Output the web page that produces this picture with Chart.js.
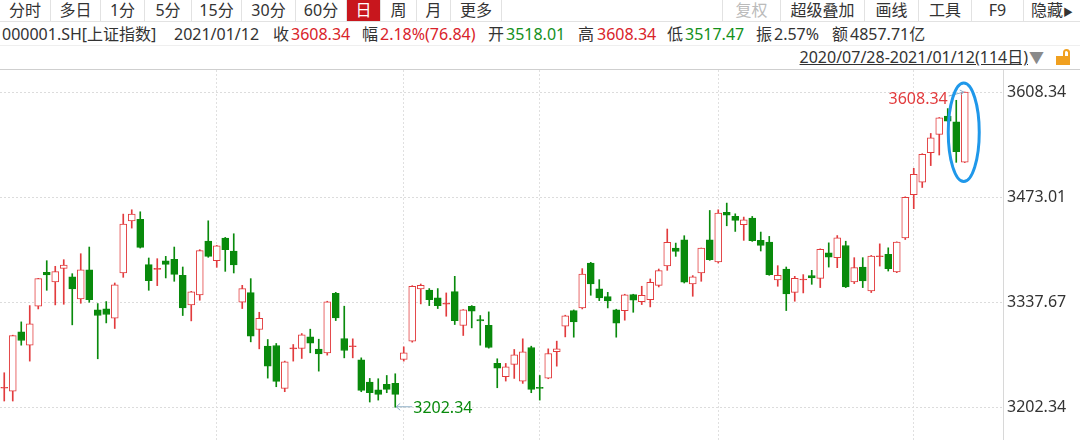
<!DOCTYPE html>
<html>
<head>
<meta charset="utf-8">
<script src="https://cdn.jsdelivr.net/npm/chart.js@4/dist/chart.umd.min.js"></script>
<style>
  body { margin: 0; width: 1080px; height: 440px; overflow: hidden; background: #fff; position: relative;
         font-family: "Noto Sans", "Noto Sans CJK SC", sans-serif; color: #333; }
  .bar { position: absolute; left: 0; top: 0; width: 1080px; height: 21px; border-bottom: 1px solid #e2e2e2; }
  .tab { position: absolute; top: 0; height: 21px; line-height: 21px; font-size: 16px; text-align: center;
         border-right: 1px solid #e2e2e2; box-sizing: border-box; }
  .tab.on { background: #c8161d; color: #fff; }
  .tab.off { color: #bbb; }
  .info span { position: absolute; top: 24px; font-size: 16px; line-height: 20px; white-space: nowrap; }
  .r { color: #d9232a; }
  .g { color: #14901a; }
  .sep { position: absolute; left: 0; top: 45px; width: 1080px; border-top: 1px solid #efefef; }
  .range { position: absolute; right: 52px; top: 47px; font-size: 16px; line-height: 20px; text-decoration: underline; }
  .tri { position: absolute; left: 1029px; top: 47px; font-size: 15px; color: #8a8a8a; line-height: 20px; }
  .lock { position: absolute; left: 1056px; top: 56px; width: 14px; height: 9px; background: #f0a020; }
  .shackle { position: absolute; left: 1063px; top: 49px; width: 7px; height: 8px; border: 2px solid #f0a020;
             border-bottom: none; border-radius: 5px 5px 0 0; box-sizing: border-box; }
  .top { position: absolute; left: 0; top: 69px; width: 1080px; border-top: 1px solid #cfcfcf; }
  #wrap { position: absolute; left: 0; top: 70px; width: 1080px; height: 370px; }
</style>
</head>
<body>
<div class="bar">
  <div class="tab" style="left:0;width:51px">分时</div>
  <div class="tab" style="left:51px;width:50px">多日</div>
  <div class="tab" style="left:101px;width:44px">1分</div>
  <div class="tab" style="left:145px;width:47px">5分</div>
  <div class="tab" style="left:192px;width:50px">15分</div>
  <div class="tab" style="left:242px;width:54px">30分</div>
  <div class="tab" style="left:296px;width:51px">60分</div>
  <div class="tab on" style="left:347px;width:34px">日</div>
  <div class="tab" style="left:381px;width:36px">周</div>
  <div class="tab" style="left:417px;width:34px">月</div>
  <div class="tab" style="left:451px;width:51px">更多</div>
  <div class="tab off" style="left:722px;width:59px;border-left:1px solid #e2e2e2">复权</div>
  <div class="tab" style="left:781px;width:84px">超级叠加</div>
  <div class="tab" style="left:865px;width:54px">画线</div>
  <div class="tab" style="left:919px;width:53px">工具</div>
  <div class="tab" style="left:972px;width:52px">F9</div>
  <div class="tab" style="left:1024px;width:56px;border-right:none">隐藏<span style="font-size:10px">▶</span></div>
</div>
<div class="info">
  <span style="left:2px">000001.SH[上证指数]</span>
  <span style="left:174px">2021/01/12</span>
  <span style="left:273px">收</span><span class="r" style="left:291px">3608.34</span>
  <span style="left:362px">幅</span><span class="r" style="left:380px">2.18%(76.84)</span>
  <span style="left:488px">开</span><span class="g" style="left:506px">3518.01</span>
  <span style="left:578px">高</span><span class="r" style="left:597px">3608.34</span>
  <span style="left:667px">低</span><span class="g" style="left:685px">3517.47</span>
  <span style="left:756px">振</span><span style="left:774px">2.57%</span>
  <span style="left:832px">额</span><span style="left:850px">4857.71亿</span>
</div>
<div class="sep"></div>
<div class="range">2020/07/28-2021/01/12(114日)</div>
<div class="tri">▼</div>
<div class="shackle"></div><div class="lock"></div>
<div class="top"></div>
<div id="wrap"><canvas id="kline"></canvas></div>

<script>
// 上证指数 daily candles, 2020/07/28 - 2021/01/12
const dates = [
  "2020/07/28","2020/07/29","2020/07/30","2020/07/31",
  "2020/08/03","2020/08/04","2020/08/05","2020/08/06","2020/08/07","2020/08/10","2020/08/11","2020/08/12","2020/08/13","2020/08/14",
  "2020/08/17","2020/08/18","2020/08/19","2020/08/20","2020/08/21","2020/08/24","2020/08/25","2020/08/26","2020/08/27","2020/08/28","2020/08/31",
  "2020/09/01","2020/09/02","2020/09/03","2020/09/04","2020/09/07","2020/09/08","2020/09/09","2020/09/10","2020/09/11","2020/09/14","2020/09/15",
  "2020/09/16","2020/09/17","2020/09/18","2020/09/21","2020/09/22","2020/09/23","2020/09/24","2020/09/25","2020/09/28","2020/09/29","2020/09/30",
  "2020/10/09","2020/10/12","2020/10/13","2020/10/14","2020/10/15","2020/10/16","2020/10/19","2020/10/20","2020/10/21","2020/10/22","2020/10/23",
  "2020/10/26","2020/10/27","2020/10/28","2020/10/29","2020/10/30",
  "2020/11/02","2020/11/03","2020/11/04","2020/11/05","2020/11/06","2020/11/09","2020/11/10","2020/11/11","2020/11/12","2020/11/13","2020/11/16",
  "2020/11/17","2020/11/18","2020/11/19","2020/11/20","2020/11/23","2020/11/24","2020/11/25","2020/11/26","2020/11/27","2020/11/30",
  "2020/12/01","2020/12/02","2020/12/03","2020/12/04","2020/12/07","2020/12/08","2020/12/09","2020/12/10","2020/12/11","2020/12/14","2020/12/15",
  "2020/12/16","2020/12/17","2020/12/18","2020/12/21","2020/12/22","2020/12/23","2020/12/24","2020/12/25","2020/12/28","2020/12/29","2020/12/30","2020/12/31",
  "2021/01/04","2021/01/05","2021/01/06","2021/01/07","2021/01/08","2021/01/11","2021/01/12"
];

const opens = [
  3227.0, 3223.2, 3299.5, 3282.3, 3332.5, 3376.2, 3363.7, 3381.3, 3370.2, 3341.9,
  3379.2, 3327.7, 3329.0, 3317.0, 3375.3, 3442.5, 3444.3, 3386.0, 3380.0, 3391.1,
  3392.9, 3372.3, 3334.2, 3347.0, 3416.4, 3391.1, 3420.3, 3403.6, 3337.6, 3350.0,
  3302.5, 3281.0, 3281.9, 3226.6, 3278.0, 3278.0, 3293.0, 3277.2, 3272.5, 3349.2,
  3290.9, 3280.6, 3263.5, 3234.8, 3224.9, 3231.8, 3233.1, 3263.9, 3287.5, 3354.7,
  3353.4, 3343.2, 3335.6, 3351.3, 3307.6, 3332.5, 3315.3, 3308.0, 3258.8, 3241.6,
  3257.5, 3236.1, 3279.3, 3228.0, 3239.9, 3273.8, 3306.8, 3326.9, 3330.3, 3388.1,
  3354.8, 3344.9, 3327.7, 3326.9, 3347.5, 3338.5, 3341.0, 3359.4, 3384.3, 3407.4,
  3418.1, 3361.2, 3375.3, 3418.1, 3389.4, 3453.3, 3448.1, 3437.4, 3446.0, 3417.3,
  3415.1, 3366.3, 3380.4, 3350.4, 3366.5, 3371.8, 3368.4, 3401.3, 3394.9, 3410.7,
  3363.7, 3383.0, 3352.2, 3396.5, 3399.2, 3376.5, 3420.5, 3476.0, 3492.2, 3530.2,
  3553.7, 3577.2, 3569.9, 3518.01
];
const highs = [
  3246.8, 3295.2, 3312.3, 3333.3, 3368.4, 3391.1, 3383.9, 3392.4, 3374.4, 3400.1,
  3408.7, 3335.9, 3338.5, 3362.4, 3451.1, 3456.7, 3454.1, 3394.6, 3393.7, 3396.7,
  3408.7, 3383.0, 3351.7, 3405.3, 3442.5, 3410.8, 3421.1, 3425.8, 3359.4, 3368.0,
  3324.7, 3289.6, 3284.5, 3261.8, 3283.2, 3297.3, 3302.9, 3290.0, 3338.9, 3350.4,
  3332.5, 3290.5, 3266.0, 3239.5, 3239.1, 3243.3, 3245.5, 3280.2, 3359.0, 3361.1,
  3355.2, 3355.2, 3349.6, 3371.0, 3328.2, 3333.3, 3320.5, 3325.2, 3264.8, 3258.8,
  3276.8, 3290.5, 3281.0, 3243.3, 3277.6, 3287.5, 3320.9, 3327.7, 3380.9, 3389.0,
  3366.7, 3350.4, 3328.6, 3347.9, 3347.9, 3358.2, 3367.6, 3380.4, 3431.9, 3413.8,
  3423.3, 3371.9, 3407.4, 3455.8, 3456.7, 3465.3, 3451.5, 3447.3, 3448.1, 3428.0,
  3422.4, 3384.7, 3383.0, 3371.0, 3373.2, 3378.7, 3406.4, 3414.1, 3423.5, 3416.2,
  3395.0, 3395.0, 3397.9, 3412.8, 3407.7, 3415.4, 3473.4, 3510.1, 3528.9, 3555.0,
  3575.5, 3587.0, 3597.7, 3608.34
];
const lows = [
  3210.4, 3210.4, 3282.3, 3261.8, 3329.0, 3353.0, 3334.2, 3335.0, 3308.5, 3336.3,
  3337.6, 3264.8, 3311.0, 3303.8, 3369.7, 3433.1, 3407.4, 3353.0, 3359.0, 3368.9,
  3364.6, 3320.5, 3313.6, 3340.2, 3395.5, 3382.6, 3377.4, 3375.3, 3329.5, 3286.6,
  3277.6, 3239.9, 3228.8, 3222.4, 3261.8, 3265.2, 3272.5, 3248.9, 3269.5, 3314.0,
  3266.0, 3266.0, 3222.4, 3209.1, 3211.6, 3221.1, 3202.34, 3261.8, 3286.2, 3335.5,
  3333.3, 3329.5, 3319.6, 3308.9, 3294.8, 3304.6, 3282.3, 3278.5, 3227.5, 3236.1,
  3239.5, 3233.1, 3221.1, 3211.6, 3239.1, 3255.3, 3293.0, 3292.6, 3329.0, 3346.6,
  3339.7, 3330.3, 3292.6, 3314.5, 3324.7, 3334.6, 3331.6, 3357.3, 3378.7, 3396.7,
  3362.4, 3345.3, 3364.6, 3391.6, 3388.1, 3436.1, 3428.8, 3417.3, 3416.0, 3403.6,
  3372.3, 3358.2, 3326.9, 3338.9, 3349.6, 3360.7, 3356.5, 3382.9, 3382.1, 3356.5,
  3361.6, 3356.5, 3350.1, 3384.2, 3377.8, 3375.7, 3418.4, 3458.1, 3485.4, 3513.6,
  3527.2, 3569.9, 3517.8, 3517.47
];
const closes = [
  3227.9, 3294.6, 3288.3, 3309.7, 3368.0, 3372.7, 3377.0, 3385.6, 3354.8, 3379.2,
  3341.0, 3320.5, 3321.8, 3359.9, 3438.3, 3451.1, 3408.3, 3365.4, 3381.0, 3386.4,
  3373.6, 3330.3, 3350.9, 3404.0, 3396.7, 3410.4, 3405.3, 3385.6, 3355.2, 3293.9,
  3317.0, 3255.3, 3235.6, 3260.9, 3278.6, 3295.6, 3284.9, 3271.2, 3338.0, 3317.4,
  3275.5, 3281.2, 3224.1, 3221.1, 3218.9, 3225.4, 3218.9, 3272.5, 3358.2, 3359.4,
  3341.0, 3333.3, 3336.2, 3314.0, 3327.7, 3326.0, 3313.6, 3279.3, 3252.8, 3254.5,
  3269.9, 3273.8, 3225.4, 3226.8, 3271.6, 3277.6, 3320.0, 3312.3, 3374.0, 3361.2,
  3343.2, 3339.3, 3310.6, 3347.0, 3340.2, 3346.6, 3363.3, 3378.3, 3414.7, 3403.1,
  3363.3, 3370.2, 3407.4, 3392.4, 3452.4, 3449.8, 3443.0, 3443.8, 3416.9, 3410.9,
  3373.2, 3372.3, 3348.3, 3368.4, 3367.2, 3368.8, 3405.6, 3395.7, 3420.5, 3357.3,
  3382.1, 3365.0, 3397.0, 3397.2, 3380.8, 3415.0, 3472.6, 3502.5, 3528.1, 3549.4,
  3575.0, 3570.8, 3531.5, 3608.34
];

const yTicks = [3202.34, 3337.67, 3473.01, 3608.34];
const gridDates = ["2020/09/01", "2020/10/09", "2020/11/02", "2020/12/01", "2021/01/04"];
// empty slots after the last session (the free space before the price axis)
const axisLabels = dates.concat(["", "", "", ""]);

const RED = "#e23b3d";
const GREEN = "#098a0c";
const isUp = i => closes[i] >= opens[i];

const bodies = dates.map((d, i) => {
  let lo = Math.min(opens[i], closes[i]);
  let hi = Math.max(opens[i], closes[i]);
  if (hi - lo < 1.3) { const m = (hi + lo) / 2; lo = m - 0.65; hi = m + 0.65; }
  return [lo, hi];
});
const wicks = dates.map((d, i) => [lows[i], highs[i]]);
const colorOf = dates.map((d, i) => isUp(i) ? RED : GREEN);
const fillOf = dates.map((d, i) =>
  isUp(i) && Math.abs(closes[i] - opens[i]) > 3 ? "#fff" : colorOf[i]);
const gridIdx = gridDates.map(d => dates.indexOf(d));

const marks = {
  id: "marks",
  afterDatasetsDraw(chart) {
    const { ctx, scales: { x, y } } = chart;
    const hiIdx = highs.indexOf(Math.max(...highs));
    const loIdx = lows.indexOf(Math.min(...lows));
    ctx.save();
    ctx.font = "16px 'Noto Sans', sans-serif";
    ctx.textBaseline = "middle";

    // highest point label
    const hx = x.getPixelForValue(hiIdx), hy = y.getPixelForValue(highs[hiIdx]);
    ctx.fillStyle = RED;
    ctx.textAlign = "right";
    ctx.fillText(highs[hiIdx].toFixed(2), hx - 17, hy + 7);
    ctx.strokeStyle = "#8fb0c8";
    ctx.lineWidth = 1;
    ctx.beginPath();
    ctx.moveTo(hx - 16, hy + 4); ctx.lineTo(hx - 1, hy);
    ctx.moveTo(hx - 5, hy - 2); ctx.lineTo(hx - 1, hy); ctx.lineTo(hx - 4, hy + 3);
    ctx.stroke();

    // lowest point label
    const lx = x.getPixelForValue(loIdx), ly = y.getPixelForValue(lows[loIdx]);
    ctx.fillStyle = GREEN;
    ctx.textAlign = "left";
    ctx.fillText(lows[loIdx].toFixed(2), lx + 18, ly + 1);
    ctx.beginPath();
    ctx.moveTo(lx + 1, ly - 0.5); ctx.lineTo(lx + 17, ly - 0.5);
    ctx.moveTo(lx + 5, ly - 4); ctx.lineTo(lx + 1, ly - 0.5); ctx.lineTo(lx + 5, ly + 3);
    ctx.stroke();

    // blue ring round the last two sessions
    const last = dates.length - 1;
    const top = y.getPixelForValue(highs[last]);
    const bot = y.getPixelForValue(Math.min(lows[last], lows[last - 1]));
    ctx.strokeStyle = "#1f98ea";
    ctx.lineWidth = 3;
    ctx.beginPath();
    ctx.ellipse(x.getPixelForValue(last) - 1, (top + bot) / 2 + 5, 15.5, (bot - top) / 2 + 14, 0, 0, Math.PI * 2);
    ctx.stroke();
    ctx.restore();
  }
};

new Chart(document.getElementById("kline"), {
  type: "bar",
  data: {
    labels: axisLabels,
    datasets: [
      {
        data: bodies,
        backgroundColor: fillOf,
        borderColor: colorOf,
        borderWidth: 1,
        borderSkipped: false,
        barThickness: 7,
        grouped: false
      },
      {
        data: wicks,
        backgroundColor: colorOf,
        borderWidth: 0,
        barThickness: 1,
        grouped: false
      }
    ]
  },
  options: {
    responsive: true,
    maintainAspectRatio: false,
    animation: false,
    layout: { padding: 0 },
    plugins: { legend: { display: false }, tooltip: { enabled: false } },
    scales: {
      x: {
        type: "category",
        offset: true,
        afterFit: s => { s.height = 0; s.paddingLeft = 0; s.paddingRight = 0; },
        ticks: { display: false, autoSkip: false },
        grid: {
          offset: false,
          drawTicks: false,
          color: c => gridIdx.includes(c.index) ? "#e0e0e0" : "rgba(0,0,0,0)"
        },
        border: { display: false, dash: [2, 2] }
      },
      y: {
        position: "right",
        min: 3160.2,
        max: 3636.7,
        afterBuildTicks: s => { s.ticks = yTicks.map(v => ({ value: v })); },
        afterFit: s => { s.width = 77; s.paddingTop = 0; s.paddingBottom = 0; },
        ticks: {
          padding: 4,
          color: "#333",
          font: { family: "'Noto Sans', sans-serif", size: 16 },
          callback: v => v.toFixed(2)
        },
        grid: { color: "#dcdcdc", drawTicks: false },
        border: { display: true, color: "#d8d8d8", dash: [2, 2] }
      }
    }
  },
  plugins: [marks]
});
</script>
</body>
</html>
